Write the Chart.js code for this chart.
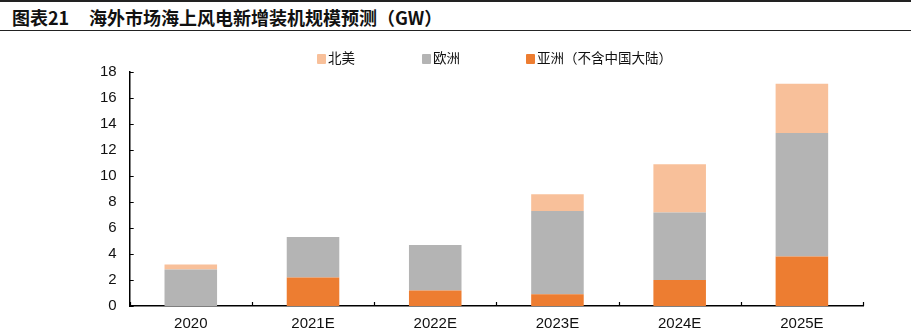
<!DOCTYPE html>
<html lang="zh">
<head>
  <meta charset="UTF-8" />
  <title>海外市场海上风电新增装机规模预测</title>
  <script src="https://cdn.jsdelivr.net/npm/chart.js"></script>
  <style>
    body {
      margin: 0;
      width: 911px;
      height: 331px;
      background: #fff;
      position: relative;
      overflow: hidden;
      font-family: 'Noto Sans CJK SC', sans-serif;
    }
    .title {
      position: absolute;
      left: 0; top: 0;
      width: 911px;
      height: 28px;
      border-top: 2px solid #222;
      border-bottom: 1.5px solid #222;
      box-sizing: content-box;
      font-weight: bold;
      font-size: 18px;
      line-height: 30px;
      color: #111;
    }
    .title span { position: absolute; top: 0; }
    .legend-item {
      position: absolute;
      top: 48px;
      font-size: 13.5px;
      line-height: 18px;
      color: #111;
      white-space: nowrap;
    }
    .legend-item i {
      display: inline-block;
      width: 9px; height: 10px;
      margin-right: 2px;
      vertical-align: -1px;
      border-radius: 1px;
    }
    #wrap { position: absolute; left: 0; top: 0; width: 911px; height: 343px; }
  </style>
</head>
<body>
  <div class="title">
    <span style="left:12px">图表21</span>
    <span style="left:89px">海外市场海上风电新增装机规模预测（GW）</span>
  </div>
  <div id="wrap"><canvas id="chart"></canvas></div>
  <div id="legend"></div>

  <script>
    const years = ["2020", "2021E", "2022E", "2023E", "2024E", "2025E"];
    const asia = [0, 2.2, 1.2, 0.9, 2.0, 3.8];
    const europe = [2.8, 3.1, 3.5, 6.4, 5.2, 9.5];
    const northAmerica = [0.4, 0, 0, 1.3, 3.7, 3.8];
    const yTicks = [0, 2, 4, 6, 8, 10, 12, 14, 16, 18];

    const series = [
      { label: "亚洲（不含中国大陆）", data: asia, color: "#ED7D31" },
      { label: "欧洲", data: europe, color: "#B4B4B4" },
      { label: "北美", data: northAmerica, color: "#F8C09A" }
    ];

    // legend drawn as html, same order as the picture
    const legendPos = { "北美": 317, "欧洲": 422, "亚洲（不含中国大陆）": 526 };
    document.getElementById('legend').innerHTML = series.slice().reverse().map(s =>
      `<div class="legend-item" style="left:${legendPos[s.label]}px"><i style="background:${s.color}"></i>${s.label}</div>`
    ).join('');

    // small inward ticks on both axes
    const innerTicks = {
      id: 'innerTicks',
      afterDraw(chart) {
        const { ctx, chartArea, scales } = chart;
        ctx.save();
        ctx.strokeStyle = '#000';
        ctx.lineWidth = 1.2;
        ctx.beginPath();
        scales.y.ticks.forEach(t => {
          const y = Math.round(scales.y.getPixelForValue(t.value)) + 0.5;
          ctx.moveTo(chartArea.left, y);
          ctx.lineTo(chartArea.left + 4, y);
        });
        for (let i = 0; i <= years.length; i++) {
          const x = Math.round(scales.x.getPixelForValue(i - 0.5)) + 0.5;
          ctx.moveTo(x, chartArea.bottom);
          ctx.lineTo(x, chartArea.bottom - 4);
        }
        ctx.stroke();
        ctx.restore();
      }
    };

    const tickFont = { family: "'Liberation Sans', Arial, sans-serif", size: 15 };

    new Chart(document.getElementById('chart'), {
      type: 'bar',
      data: {
        labels: years,
        datasets: series.map(s => ({
          label: s.label,
          data: s.data,
          backgroundColor: s.color,
          borderWidth: 0,
          categoryPercentage: 0.43,
          barPercentage: 1
        }))
      },
      options: {
        responsive: true,
        maintainAspectRatio: false,
        animation: false,
        layout: { padding: { top: 72, left: 87, right: 48, bottom: 1 } },
        plugins: {
          legend: { display: false },
          tooltip: { enabled: false }
        },
        scales: {
          x: {
            stacked: true,
            grid: { display: false, drawTicks: false },
            border: { display: true, color: '#000', width: 1.5 },
            ticks: { color: '#111', font: tickFont, padding: 9 }
          },
          y: {
            stacked: true,
            min: 0,
            max: 18,
            afterBuildTicks: axis => { axis.ticks = yTicks.map(v => ({ value: v })); },
            grid: { display: false, drawTicks: false },
            border: { display: true, color: '#000', width: 1.5 },
            ticks: { color: '#111', font: tickFont, padding: 13 }
          }
        }
      },
      plugins: [innerTicks]
    });
  </script>
</body>
</html>
